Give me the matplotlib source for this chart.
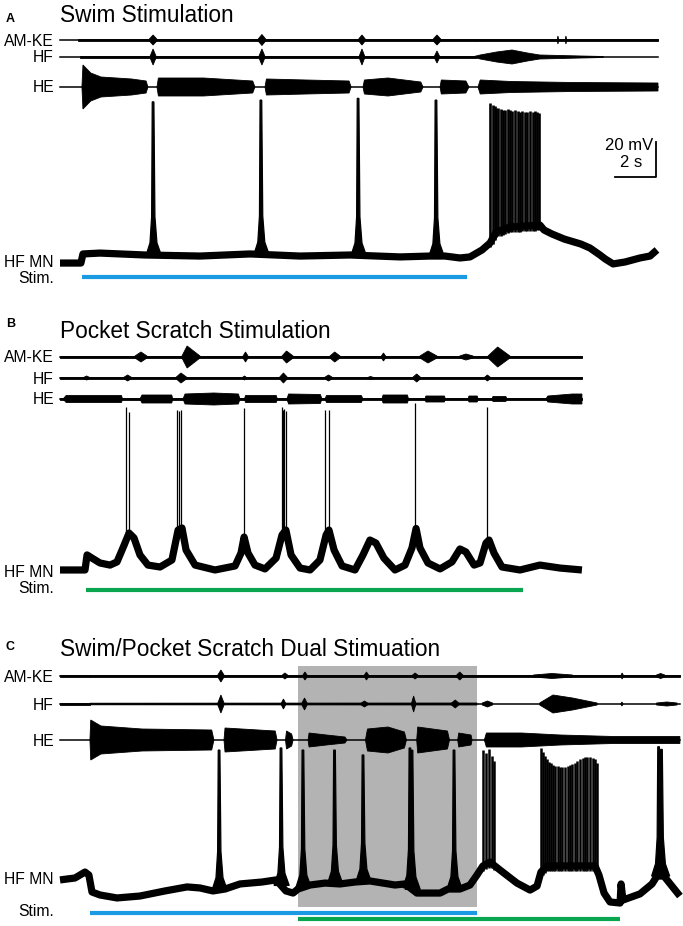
import numpy as np
import matplotlib.pyplot as plt

plt.rcParams['font.family'] = ['Liberation Sans', 'DejaVu Sans']

# Werte
# Zeit in s ab Beginn der Aufnahme, HF MN Membranpotential in mV,
# Nervenableitungen als Huellkurven: Liste von (Zeit s, halbe Amplitude a.u.)

# ---------- A: Swim Stimulation ----------
a_end = 29.17
a_stim = (1.07, 19.85)
a_mn_t = [0, 1.02, 1.12, 1.95, 4.15, 6.83, 9.27, 11.71, 14.15, 16.59, 18.05, 18.78, 19.51, 20.0,
          20.59, 20.98, 21.27, 21.95, 23.41, 23.61, 24.0, 24.6, 25.4, 25.85, 26.34, 26.6, 26.98,
          27.56, 28.29, 28.78, 29.12]
a_mn_v = [-64.6, -64.6, -59.4, -58.9, -60, -60.6, -59.4, -60.6, -60, -61.1, -60.6, -60.6, -61.7, -61.1,
          -57.1, -53.1, -46.9, -44, -42.9, -45.7, -48, -50.9, -53.7, -56, -60, -62.3, -65.1,
          -64, -61.7, -60.6, -57.1]
a_swim_t = [4.54, 9.80, 14.54, 18.34]
a_swim_pk = [27.5, 28.5, 29.5, 28.5]
a_spk_t = [21.00, 21.10, 21.20, 21.29, 21.39, 21.49, 21.59, 21.71, 21.83, 21.95, 22.07,
           22.20, 22.32, 22.44, 22.56, 22.68, 22.80, 22.93, 23.05, 23.17, 23.29, 23.39]
a_spk_pk = [27, 26, 25, 24, 24, 23.5, 23, 23, 23.5, 23, 22.5,
            23, 22.5, 22, 22.5, 22, 22, 22.5, 22, 22.5, 22, 21]
a_amke = [[(0.9, 1.3), (20.3, 1.3)], [(20.3, 0.6), (29.17, 0.6)],
          [(4.36, 1), (4.54, 5), (4.72, 1)], [(9.67, 1), (9.85, 5.5), (10.03, 1)],
          [(14.57, 1), (14.73, 5), (14.89, 1)], [(18.21, 1), (18.39, 5), (18.57, 1)],
          [(24.25, 0), (24.29, 4), (24.33, 0)], [(24.64, 0), (24.68, 4), (24.72, 0)]]
a_hf = [[(1.0, 1.3), (20.3, 1.3)],
        [(4.40, 1), (4.54, 8), (4.68, 1)], [(9.71, 1), (9.85, 8), (9.99, 1)],
        [(14.6, 1), (14.73, 8), (14.86, 1)], [(18.27, 1), (18.39, 6), (18.51, 1)],
        [(20.2, 0.5), (20.5, 2), (21.3, 5), (22.05, 7), (22.8, 4), (23.4, 2), (25.4, 1), (26.5, 0.5)]]
a_he = [[(1.07, 0), (1.12, 22), (1.5, 14), (2.0, 10), (3.5, 8), (4.2, 6), (4.29, 0)],
        [(4.73, 0), (4.8, 9), (7.0, 9), (9.4, 6), (9.51, 0)],
        [(10.0, 0), (10.07, 8), (12.0, 7), (14.1, 6), (14.2, 0)],
        [(14.78, 0), (14.85, 7), (16.0, 9), (17.6, 5), (17.71, 0)],
        [(18.54, 0), (18.6, 7), (19.8, 6), (19.95, 0)],
        [(20.39, 0), (20.5, 7), (22.0, 5.5), (25.0, 4.5), (29.17, 4)]]

# ---------- B: Pocket Scratch Stimulation ----------
b_end = 25.46
b_stim = (1.27, 22.59)
b_mn_t = [0, 1.22, 1.32, 1.56, 1.95, 2.44, 2.78, 3.07, 3.37, 3.61, 3.9, 4.29, 4.88, 5.46, 5.76, 5.95,
          6.15, 6.59, 7.56, 8.54, 8.83, 8.98, 9.17, 9.51, 10.0, 10.54, 10.83, 11.02, 11.27, 11.71,
          12.2, 12.68, 12.98, 13.12, 13.37, 13.76, 14.39, 14.78, 15.12, 15.41, 15.8, 16.34, 16.83,
          17.17, 17.37, 17.56, 17.95, 18.54, 19.12, 19.51, 19.8, 20.2, 20.49, 20.78, 20.93, 21.17,
          21.56, 22.44, 23.41, 24.39, 25.46]
b_mn_v = [-61.7, -61.7, -53.1, -54.9, -57.7, -58.9, -57.1, -49.1, -40.6, -43.4, -53.1, -58.9, -60, -56, -38.9, -37.7,
          -50.3, -58.9, -61.7, -59.4, -52, -42.9, -52, -58.9, -61.1, -54.9, -41.7, -38.9, -53.1, -60.6,
          -61.7, -56, -41.7, -38.9, -50.3, -59.4, -61.7, -53.1, -44.6, -46.3, -54.9, -61.7, -58.9,
          -49.1, -38, -49.1, -57.7, -61.1, -57.1, -49.7, -51.4, -58.9, -57.7, -46.3, -44.6, -52,
          -60, -61.7, -58.9, -60.6, -61.7]
b_spk_t = [3.22, 3.37, 5.71, 5.80, 5.92, 8.96, 10.83, 10.88, 10.95, 11.02, 12.93, 13.1, 17.34, 20.83]
b_spk_pk = [31.4, 28.6, 30, 29, 30, 31, 31.4, 30, 30.5, 29, 30, 29.5, 33.7, 31.4]
b_amke = [[(0, 1.3), (25.46, 1.3)],
          [(3.66, 1), (3.95, 5), (4.24, 1)], [(5.95, 1), (6.2, 11), (6.83, 1)],
          [(8.93, 1), (9.05, 5), (9.17, 1)], [(10.83, 1), (11.05, 6), (11.37, 1)],
          [(13.17, 1), (13.4, 5), (13.66, 1)], [(15.68, 1), (15.78, 4), (15.88, 1)],
          [(17.56, 1), (17.95, 6), (18.39, 1)], [(19.5, 1), (19.8, 3), (20.15, 1)],
          [(20.88, 1), (21.35, 10), (21.95, 1)]]
b_hf = [[(0, 0.8), (25.46, 0.8)],
        [(1.15, 0.5), (1.3, 2), (1.45, 0.5)], [(3.1, 0.5), (3.3, 3), (3.5, 0.5)],
        [(5.65, 0.5), (5.9, 5), (6.2, 0.5)], [(8.9, 0.5), (9.0, 2), (9.1, 0.5)],
        [(10.7, 0.5), (10.9, 5), (11.1, 0.5)], [(12.9, 0.5), (13.1, 3), (13.3, 0.5)],
        [(15.0, 0.5), (15.15, 1.5), (15.3, 0.5)], [(17.2, 0.5), (17.4, 4), (17.6, 0.5)],
        [(20.7, 0.5), (20.85, 3), (21.0, 0.5)]]
b_he = [[(0, 0.8), (25.46, 0.8)],
        [(0.15, 0), (0.3, 3.5), (3.0, 3.5), (3.05, 0)],
        [(3.9, 0), (4.0, 4), (5.45, 4), (5.5, 0)],
        [(6.0, 0), (6.1, 5), (7.5, 6), (8.7, 5), (8.78, 0)],
        [(9.0, 0), (9.05, 3.5), (10.55, 3.5), (10.6, 0)],
        [(11.07, 0), (11.15, 5), (12.7, 4.5), (12.78, 0)],
        [(12.93, 0), (13.0, 3.5), (14.7, 3.5), (14.78, 0)],
        [(15.7, 0), (15.76, 4), (16.95, 4), (17.0, 0)],
        [(17.8, 0), (17.85, 3), (18.75, 3), (18.8, 0)],
        [(19.9, 0), (19.95, 3), (20.35, 3), (20.4, 0)],
        [(21.07, 0), (21.12, 2.5), (21.75, 2.5), (21.8, 0)],
        [(23.7, 0), (23.8, 3), (25.0, 5), (25.46, 5)]]

# ---------- C: Swim/Pocket Scratch Dual ----------
c_end = 30.24
c_swim_stim = (1.46, 20.34)
c_scratch_stim = (11.61, 27.32)
c_mn_t = [0, 0.73, 1.22, 1.41, 1.56, 1.95, 2.78, 3.9, 5.12, 6.2, 6.83, 7.46, 8.05, 8.78, 9.85,
          10.54, 11.02, 11.37, 11.61, 12.2, 12.93, 13.66, 14.39, 15.12, 16.34, 16.83, 17.41, 18.54,
          18.93, 19.51, 20.0, 20.34, 20.63, 20.98, 21.46, 22.29, 22.93, 23.27, 23.46, 23.76, 24.88,
          26.1, 26.29, 26.54, 26.83, 27.32, 27.37, 27.46, 28.29, 28.88, 29.12, 29.46, 29.85, 30.24]
c_mn_v = [-57.1, -56, -52.6, -54.3, -64, -65.7, -67.4, -66.3, -63.4, -61.1, -61.7, -63.4, -62.3, -59.4, -58.3,
          -57.1, -63.4, -64.6, -62.3, -60, -58.9, -59.4, -58.3, -57.7, -60, -59.4, -64.6, -64.6,
          -62.3, -62.3, -60, -54.3, -49.1, -46.9, -51.4, -58.9, -62.9, -60.6, -52.6, -49.1, -49.1,
          -49.1, -54.3, -64.6, -69.7, -70.3, -59.4, -68.6, -65.1, -59.4, -54.9, -54.9, -60.6, -66.3]
c_swim_t = [7.76, 10.78, 11.85, 13.39, 14.78, 17.07, 17.17, 19.22, 29.2, 29.34]
c_swim_pk = [17.1, 18.3, 17.1, 17.1, 14.3, 18.3, 17, 17.1, 19, 17.5]
c_spk_t = [20.63, 20.80, 20.93, 21.05, 21.17,
           23.46, 23.56, 23.66, 23.76, 23.85, 23.95, 24.05, 24.15, 24.27, 24.39, 24.51, 24.63,
           24.76, 24.88, 25.0, 25.12, 25.24, 25.37, 25.49, 25.61, 25.73, 25.85, 25.98, 26.10, 26.20]
c_spk_pk = [17, 15.5, 18, 14, 11,
            18.3, 16, 14, 12, 10.5, 9.5, 8.5, 8, 8, 7.5, 7.5, 7.5,
            8, 8.5, 9, 10, 11, 12, 12.5, 13, 13, 13, 12.5, 12, 10]
c_amke = [[(0, 0.6), (1.46, 0.6)], [(1.46, 1.4), (20.34, 1.4)], [(20.34, 0.8), (30.24, 0.8)],
          [(7.7, 1), (7.85, 6), (8.0, 1)], [(10.85, 1), (10.97, 3), (11.1, 1)],
          [(11.85, 1), (11.95, 4), (12.05, 1)], [(14.85, 1), (14.95, 4), (15.05, 1)],
          [(17.2, 1), (17.32, 3), (17.45, 1)], [(19.35, 1), (19.5, 4), (19.65, 1)],
          [(23.1, 1), (24.0, 2.5), (25.0, 1)], [(27.35, 0), (27.42, 3), (27.5, 0)],
          [(29.1, 1), (29.3, 2.5), (29.5, 1)]]
c_hf = [[(0, 1.3), (1.46, 1.3)], [(1.46, 0.8), (20.34, 1.0)],
        [(7.7, 1), (7.85, 9), (8.0, 1)], [(10.8, 1), (10.9, 5), (11.0, 1)],
        [(11.8, 1), (11.93, 6), (12.05, 1)], [(14.7, 1), (14.85, 3), (15.0, 1)],
        [(17.15, 1), (17.25, 8), (17.35, 1)], [(19.1, 1), (19.28, 4), (19.45, 1)],
        [(20.6, 1), (20.85, 3), (21.1, 1)], [(23.4, 1), (24.05, 9), (25.0, 6), (26.2, 1)],
        [(27.35, 0), (27.41, 2), (27.47, 0)], [(29.1, 1), (29.6, 2), (30.1, 1)]]
c_he = [[(1.46, 0), (1.5, 20), (2.0, 14), (4.0, 11), (7.4, 10), (7.51, 0)],
        [(8.0, 0), (8.05, 12), (10.5, 9), (10.59, 0)],
        [(11.0, 0), (11.05, 9), (11.3, 6), (11.37, 0)],
        [(12.1, 0), (12.15, 7), (13.0, 5), (13.9, 3), (14.0, 0)],
        [(14.9, 0), (15.0, 11), (16.0, 13), (16.8, 8), (16.9, 0)],
        [(17.4, 0), (17.45, 13), (18.9, 9), (19.0, 0)],
        [(19.4, 0), (19.45, 7), (20.05, 5), (20.1, 0)],
        [(20.7, 0), (20.8, 7), (22.5, 7), (24.4, 5), (27.0, 3.5), (30.24, 3.5)]]

swim_blue = '#1b9ae4'
scratch_green = '#0aa54f'

# Abbildung: 683 x 926 px, 20.5 px pro s, 1.75 px pro mV, t=0 bei x=60 px
W, H = 683, 926
PX_S, PX_MV, X0 = 20.5, 1.75, 60

fig = plt.figure(figsize=(W / 100, H / 100), dpi=100)


def panel(y_ref):
    ax = fig.add_axes([0, 0, 1, 1])
    ax.set_xlim(-X0 / PX_S, (W - X0) / PX_S)
    ax.set_ylim(-60 - (H - y_ref) / PX_MV, -60 + y_ref / PX_MV)
    ax.axis('off')
    ax.patch.set_alpha(0)
    return ax


def row(y_ref, py):
    return -60 + (y_ref - py) / PX_MV


def nerve(ax, y0, t_end, bursts):
    ax.plot([0, t_end], [y0, y0], color='k', lw=1.1, zorder=2)
    for b in bursts:
        t, a = np.array(b, dtype=float).T
        a = a / PX_MV
        ax.fill(np.r_[t, t[::-1]], np.r_[y0 + a, (y0 - a)[::-1]], color='k', lw=0.6, zorder=2)


def mn(ax, t, v, swim_t=(), swim_pk=(), spk_t=(), spk_pk=(), lw_spk=1.0):
    ax.plot(t, v, color='k', lw=5.2, solid_joinstyle='round', solid_capstyle='butt', zorder=3)
    dt = np.array([-0.34, -0.15, -0.07, -0.04, 0.04, 0.09, 0.19, 0.4])
    dv = np.array([0, 7, 22, 0, 0, 22, 7, 0], dtype=float)
    for ts, vp in zip(swim_t, swim_pk):
        vb = np.interp(ts, t, v)
        vs = vb + dv
        vs[3:5] = vp
        ax.fill(ts + dt, vs, color='k', lw=0.9, zorder=3)
    if len(spk_t):
        base = np.interp(spk_t, t, v) - 3
        ax.vlines(spk_t, base, spk_pk, color='k', lw=lw_spk, zorder=3)


def bar(ax, span, v, color):
    ax.plot(span, [v, v], color=color, lw=3.0, solid_capstyle='butt', zorder=2)


def ftext(px, py, s, **kw):
    fig.text(px / W, 1 - py / H, s, va='baseline', **kw)


# ----- A -----
ax = panel(255)
nerve(ax, row(255, 40), a_end, a_amke)
nerve(ax, row(255, 57), a_end, a_hf)
nerve(ax, row(255, 87), a_end, a_he)
mn(ax, a_mn_t, a_mn_v, a_swim_t, a_swim_pk, a_spk_t, a_spk_pk, lw_spk=1.9)
bar(ax, a_stim, row(255, 277), swim_blue)
# Skalierung 20 mV / 2 s
sb_t, sb_v = (656 - X0) / PX_S, row(255, 177)
ax.plot([sb_t - 2, sb_t, sb_t], [sb_v, sb_v, sb_v + 20], color='k', lw=1.3, zorder=2)

# ----- B -----
ax = panel(567)
nerve(ax, row(567, 357), b_end, b_amke)
nerve(ax, row(567, 378), b_end, b_hf)
nerve(ax, row(567, 399), b_end, b_he)
mn(ax, b_mn_t, b_mn_v, spk_t=b_spk_t, spk_pk=b_spk_pk, lw_spk=0.9)
bar(ax, b_stim, row(567, 590), scratch_green)

# ----- C -----
ax = panel(885)
ax.fill_between(c_scratch_stim[:1] + c_swim_stim[1:], row(885, 907), row(885, 666),
                color='#b3b3b3', lw=0, zorder=1)
nerve(ax, row(885, 676), c_end, c_amke)
nerve(ax, row(885, 704), c_end, c_hf)
nerve(ax, row(885, 740), c_end, c_he)
mn(ax, c_mn_t, c_mn_v, c_swim_t, c_swim_pk, c_spk_t, c_spk_pk, lw_spk=1.8)
bar(ax, c_swim_stim, row(885, 913), swim_blue)
bar(ax, c_scratch_stim, row(885, 919), scratch_green)

# ----- Beschriftung -----
lab = dict(fontsize=11.3, ha='right')
for names, ys in [(('AM-KE', 'HF', 'HE', 'HF MN', 'Stim.'), (45.5, 62.5, 92.5, 267, 283)),
                  (('AM-KE', 'HF', 'HE', 'HF MN', 'Stim.'), (362.5, 383.5, 404.5, 577, 593)),
                  (('AM-KE', 'HF', 'HE', 'HF MN', 'Stim.'), (681.5, 709.5, 745.5, 884, 916))]:
    for s, y in zip(names, ys):
        ftext(54, y, s, **lab)

ftext(6, 22, 'A', fontsize=9, fontweight='bold')
ftext(6, 327, 'B', fontsize=9, fontweight='bold')
ftext(6, 650, 'C', fontsize=9, fontweight='bold')
ftext(60, 22, 'Swim Stimulation', fontsize=16.3)
ftext(60, 338, 'Pocket Scratch Stimulation', fontsize=16.3)
ftext(60, 656, 'Swim/Pocket Scratch Dual Stimuation', fontsize=16.3)
ftext(653, 150, '20 mV', fontsize=12, ha='right')
ftext(642, 167, '2 s', fontsize=12, ha='right')

fig.savefig('out.png', dpi=100)
